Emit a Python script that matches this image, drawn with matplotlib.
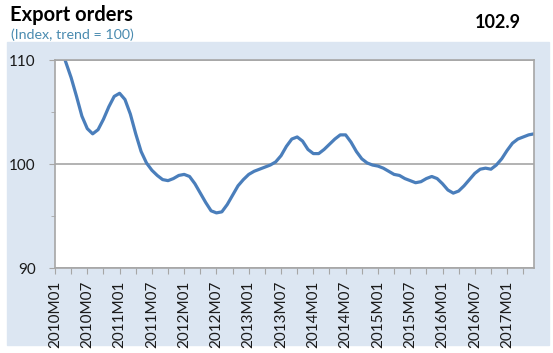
import matplotlib.pyplot as plt
from matplotlib.patches import Rectangle

# monthly index, 2010M01 .. 2017M06
years = list(range(2010, 2018))
months = [f"{y}M{m:02d}" for y in years for m in range(1, 13)][:90]
values = [
    112.8, 111.3, 109.8, 108.3, 106.5, 104.6, 103.4, 102.9, 103.3, 104.3,
    105.5, 106.5, 106.8, 106.2, 104.8, 102.9, 101.2, 100.1, 99.4, 98.9,
    98.5, 98.4, 98.6, 98.9, 99.0, 98.8, 98.1, 97.2, 96.3, 95.5,
    95.3, 95.4, 96.1, 97.0, 97.9, 98.5, 99.0, 99.3, 99.5, 99.7,
    99.9, 100.2, 100.8, 101.7, 102.4, 102.6, 102.2, 101.4, 101.0, 101.0,
    101.4, 101.9, 102.4, 102.8, 102.8, 102.1, 101.2, 100.5, 100.1, 99.9,
    99.8, 99.6, 99.3, 99.0, 98.9, 98.6, 98.4, 98.2, 98.3, 98.6,
    98.8, 98.6, 98.1, 97.5, 97.2, 97.4, 97.9, 98.5, 99.1, 99.5,
    99.6, 99.5, 99.9, 100.5, 101.3, 102.0, 102.4, 102.6, 102.8, 102.9,
]
latest = "102.9"

plt.rcParams["font.family"] = ["Lato", "DejaVu Sans"]

W, H = 553, 353
fig = plt.figure(figsize=(W / 100, H / 100), dpi=100)

# light blue panel behind the chart
fig.patches.append(Rectangle((7 / W, 1 - 345 / H), (549 - 7) / W, (345 - 42) / H,
                             transform=fig.transFigure, color="#dce6f2", zorder=-5))

ax = fig.add_axes([55 / W, 1 - 268 / H, (534 - 55) / W, (268 - 60) / H])
ax.set_facecolor("white")

x = list(range(len(values)))
ax.plot(x, values, color="#4a7ebb", lw=2.3, solid_capstyle="round")

ax.set_xlim(0, len(values) - 1)
ax.set_ylim(90, 110)
ax.set_yticks([90, 100, 110])
ax.set_yticks([95, 105], minor=True)
ax.grid(axis="y", which="major", color="#a6a6a6", lw=1.2)

ticks = x[::3]
ax.set_xticks(ticks)
ax.set_xticklabels([months[i] if i % 6 == 0 else "" for i in ticks],
                   rotation=90, fontsize=11, color="#1a1a1a")
ax.tick_params(axis="y", labelsize=11, colors="#a6a6a6", labelcolor="#1a1a1a",
               length=4, pad=10)
ax.tick_params(axis="y", which="minor", colors="#a6a6a6", length=3)
ax.tick_params(axis="x", colors="#a6a6a6", labelcolor="#1a1a1a", length=4, pad=5)
for s in ax.spines.values():
    s.set_color("#a6a6a6")
    s.set_linewidth(1.2)

fig.text(10 / W, 1 - 15 / H, "Export orders", fontsize=14.5, fontweight="bold",
         va="center", ha="left")
fig.text(11 / W, 1 - 35 / H, "(Index, trend = 100)", fontsize=10.3,
         color="#4a8bb0", va="center", ha="left")
fig.text(521 / W, 1 - 23 / H, latest, fontsize=13, fontweight="bold",
         va="center", ha="right")

fig.savefig("out.png", dpi=100, facecolor="white")
